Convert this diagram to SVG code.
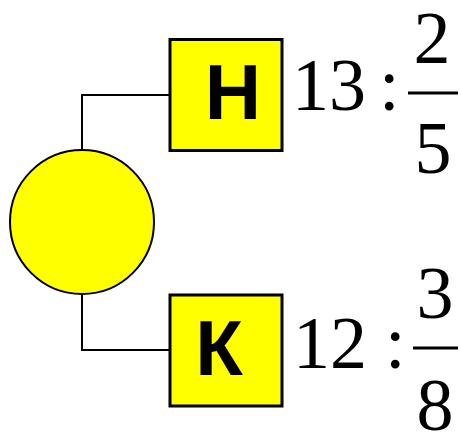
<svg xmlns="http://www.w3.org/2000/svg" width="461" height="432" viewBox="0 0 461 432">
<style>
.box{fill:#ffff00;stroke:#000;stroke-width:3}
.lbl{font-family:"Liberation Sans",Arial,sans-serif;font-weight:bold;font-size:78px;text-anchor:middle}
.num{font-family:"Liberation Serif","Times New Roman",serif;font-size:74px}
.frac{font-family:"Liberation Serif","Times New Roman",serif;font-size:74px;text-anchor:middle}
.conn{fill:none;stroke:#000;stroke-width:2}
</style>
<rect width="461" height="432" fill="#fff"/>
<g id="connectors">
<polyline class="conn" points="82,150 82,95 170,95"/>
<polyline class="conn" points="82,294 82,350 170,350"/>
</g>
<g id="root">
<circle cx="82" cy="222" r="72" fill="#ffff00" stroke="#000" stroke-width="2"/>
</g>
<g id="node-n">
<rect class="box" x="170" y="39.5" width="112" height="111"/>
<text class="lbl" x="233" y="119">Н</text>
</g>
<g id="node-k">
<rect class="box" x="170" y="295" width="112" height="111"/>
<text class="lbl" x="219" y="375">К</text>
</g>
<g id="label-n">
<text class="num" x="292" y="110">13</text>
<text class="num" x="379" y="110">:</text>
<line x1="408" y1="93" x2="458" y2="93" stroke="#000" stroke-width="3"/>
<text class="frac" x="432" y="63">2</text>
<text class="frac" x="433" y="173">5</text>
</g>
<g id="label-k">
<text class="num" x="293" y="368">12</text>
<text class="num" x="385" y="368">:</text>
<line x1="413" y1="348" x2="458" y2="348" stroke="#000" stroke-width="3"/>
<text class="frac" x="435" y="318">3</text>
<text class="frac" x="435" y="430">8</text>
</g>
</svg>
